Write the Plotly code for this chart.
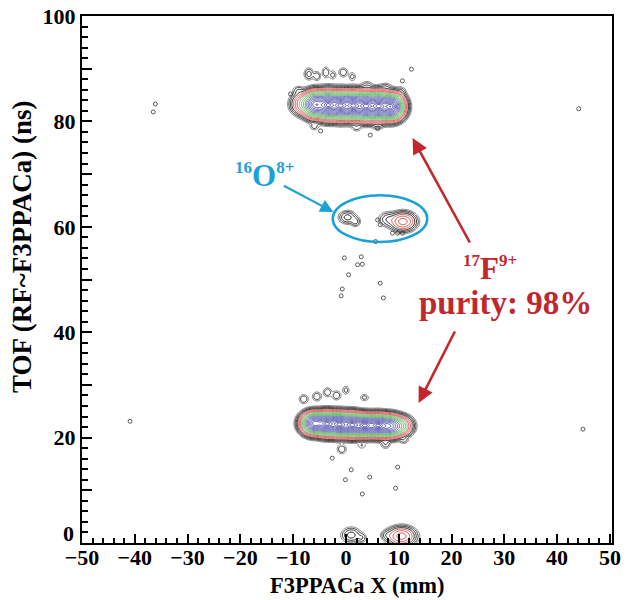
import numpy as np
import plotly.graph_objects as go

# ---------------- data ----------------
# main ion bands: blob centres along each band (x, y), widths, relative weights
TOP_X = [-8.0, -5.8, -3.4, -1.0, 1.4, 3.8, 6.2, 8.6]
TOP_Y = [83.3, 83.2, 83.1, 83.0, 83.0, 82.9, 82.9, 82.8]
TOP_SX = [1.0, 1.0, 1.0, 1.0, 1.0, 1.0, 1.0, 1.0]
TOP_SY = [0.9, 1.0, 1.05, 1.05, 1.05, 1.05, 1.05, 1.0]
TOP_W = [0.06, 0.8, 1.0, 1.0, 1.0, 1.0, 1.0, 1.0]

BOT_X = [-6.0, -3.6, -1.2, 1.2, 3.6, 6.0, 8.2, 10.2]
BOT_Y = [22.7, 22.6, 22.5, 22.4, 22.3, 22.3, 22.2, 22.2]
BOT_SX = [1.0, 1.0, 1.0, 1.0, 1.0, 1.0, 1.1, 1.0]
BOT_SY = [0.85, 0.9, 0.9, 0.9, 0.85, 0.85, 0.85, 0.8]
BOT_W = [0.9, 1.0, 1.0, 1.0, 1.0, 0.95, 0.7, 0.12]

# small clumps / islands: x, y, sx, sy, peak level (in contour units)
CL_X = [-7.0, -5.5, -3.8, -2.5, -0.5, 1.2, -9.0, 4.0, 7.5, 10.5, -6.0, 2.0, 6.0,
        -8.0, -5.5, -3.5, -1.8, 0.0, 3.5, -0.8, 7.5, 11.0, 3.0,
        0.3, 1.8, 8.0, 10.8,
        1.0, 3.0, 7.8, 10.5]
CL_Y = [89.0, 88.6, 89.3, 88.8, 89.3, 88.5, 85.8, 86.8, 86.6, 85.7, 79.0, 78.8, 79.0,
        27.3, 27.8, 28.6, 28.0, 29.0, 27.6, 17.8, 18.8, 19.5, 18.5,
        61.8, 61.0, 61.4, 61.0,
        1.5, 1.0, 1.5, 1.3]
CL_SX = [0.5, 0.4, 0.4, 0.4, 0.5, 0.4, 0.6, 0.6, 0.6, 0.5, 0.5, 0.5, 0.5,
         0.5, 0.5, 0.45, 0.5, 0.4, 0.5, 0.5, 0.5, 0.5, 0.5,
         0.8, 0.5, 0.9, 1.1,
         0.9, 0.5, 0.6, 1.2]
CL_SY = [0.6, 0.5, 0.6, 0.5, 0.5, 0.5, 0.5, 0.5, 0.4, 0.5, 0.4, 0.4, 0.4,
         0.5, 0.5, 0.5, 0.5, 0.5, 0.4, 0.5, 0.5, 0.4, 0.4,
         0.6, 0.5, 0.7, 0.8,
         0.7, 0.5, 0.5, 0.8]
CL_R = [3.4, 3.5, 3.5, 3.6, 3.5, 3.6, 3.5, 3.6, 3.6, 3.6, 3.6, 3.6, 3.6,
        3.5, 3.5, 3.5, 3.5, 3.6, 3.6, 3.5, 3.5, 3.6, 3.7,
        3.2, 3.4, 3.3, 2.6,
        3.2, 3.5, 3.4, 2.6]

# isolated single counts
DOT_X = [-36.1, -36.5, 44.1, -40.9, 44.9, 5.6, 6.0, 6.5, 8.8, 9.8, 10.7,
         -0.3, 2.9, 2.2, -0.7, -0.9, 6.5, 7.1, 0.5, 3.1,
         9.4, 4.5, -0.1, 1.0, 9.8, 3.1,
         -10.5, 10.7, 12.4, -4.8, 6.0, 4.6, -2.6]
DOT_Y = [83.3, 81.8, 82.4, 23.1, 21.6, 57.2, 61.3, 60.4, 58.8, 58.8, 58.8,
         54.1, 54.3, 52.8, 48.2, 46.9, 49.3, 46.5, 50.9, 52.9,
         10.4, 12.5, 12.0, 13.9, 14.4, 9.3,
         85.2, 87.7, 89.9, 78.2, 78.7, 77.4, 16.1]

X_TICKS = [-50, -40, -30, -20, -10, 0, 10, 20, 30, 40, 50]
Y_TICKS = [0, 10, 20, 30, 40, 50, 60, 70, 80, 90, 100]
Y_TEXT = ["", "", "20", "", "40", "", "60", "", "80", "", "100"]

# ---------------- density grid ----------------
gx = np.arange(-20.0, 25.0, 0.15)
gy = np.arange(-4.0, 100.0, 0.15)
GX, GY = np.meshgrid(gx, gy)


def blob(x0, y0, sx, sy):
    return np.exp(-0.5 * (((GX - x0) / sx) ** 2 + ((GY - y0) / sy) ** 2))


dens = np.zeros_like(GX)
for xs, ys, sxs, sys_, ws in [(TOP_X, TOP_Y, TOP_SX, TOP_SY, TOP_W),
                               (BOT_X, BOT_Y, BOT_SX, BOT_SY, BOT_W)]:
    for a, b, c, d, w in zip(xs, ys, sxs, sys_, ws):
        dens += w * blob(a, b, c, d)
M = dens.max()
for a, b, c, d, rp in zip(CL_X, CL_Y, CL_SX, CL_SY, CL_R):
    dens += M * np.exp(-0.5 * rp ** 2) * blob(a, b, c, d)

R = np.sqrt(2.0 * np.log(M / np.maximum(dens, 1e-300)))

cscale = [[0.0, '#4848a4'], [0.416, '#6464be'],
          [0.417, '#49aa49'], [0.638, '#74c074'],
          [0.639, '#d44848'], [0.805, '#de5a5a'],
          [0.806, '#151515'], [0.94, '#303030'], [1.0, '#7a7a7a']]

fig = go.Figure()
fig.add_trace(go.Contour(
    x=gx, y=gy, z=R,
    contours=dict(start=0.3, end=3.9, size=0.2, coloring='lines'),
    colorscale=cscale, zmin=0.3, zmax=3.9, zauto=False,
    line=dict(width=1.0), showscale=False, hoverinfo='skip'))

fig.add_trace(go.Scatter(
    x=DOT_X, y=DOT_Y, mode='markers',
    marker=dict(symbol='circle-open', size=4, color='#333333', line=dict(width=0.8)),
    hoverinfo='skip', showlegend=False))

SERIF = "Liberation Serif"
RED = '#c1272d'
CYAN = '#1ba1d8'


def px2x(p):
    return (p - 82) / 5.27 - 50


def px2y(p):
    return 100 - (p - 16) / 5.27


def small(t):
    return '<sup><span style="font-size:17px">%s</span></sup>' % t


ann = []
# arrows
for (tx, ty, hx, hy, col, wd) in [(470, 244, 412, 138, RED, 2.6),
                                  (455, 330, 418, 403, RED, 2.6),
                                  (282, 185, 333, 212, CYAN, 2.2)]:
    ann.append(dict(x=px2x(hx), y=px2y(hy), ax=px2x(tx), ay=px2y(ty),
                    xref='x', yref='y', axref='x', ayref='y', text='',
                    showarrow=True, arrowhead=2, arrowsize=1.2,
                    arrowwidth=wd, arrowcolor=col))
ann.append(dict(x=px2x(264), y=px2y(175), xref='x', yref='y', showarrow=False,
                text=small('16') + 'O' + small('8+'),
                font=dict(family=SERIF, size=31, color=CYAN, weight='bold')))
ann.append(dict(x=px2x(489), y=px2y(268), xref='x', yref='y', showarrow=False,
                text=small('17') + 'F' + small('9+'),
                font=dict(family=SERIF, size=31, color=RED, weight='bold')))
ann.append(dict(x=px2x(505), y=px2y(303), xref='x', yref='y', showarrow=False,
                text='purity: 98%',
                font=dict(family=SERIF, size=33, color=RED, weight='bold')))
ann.append(dict(x=0, y=1.8, xref='paper', yref='y', xanchor='right', xshift=-6,
                showarrow=False, text='0',
                font=dict(family=SERIF, size=22, color='black', weight='bold')))
# axis titles
ann.append(dict(x=(22 - 82) / 530.0, y=px2y(247), xref='paper', yref='y',
                xanchor='center', yanchor='middle', textangle=-90, showarrow=False,
                text='TOF (RF~F3PPACa) (ns)',
                font=dict(family=SERIF, size=27, color='black', weight='bold')))
ann.append(dict(x=(357 - 82) / 530.0, y=(543 - 585) / 527.0, xref='paper', yref='paper',
                xanchor='center', yanchor='middle', showarrow=False,
                text='F3PPACa X (mm)',
                font=dict(family=SERIF, size=22.5, color='black', weight='bold')))

fig.update_layout(
    width=630, height=600,
    margin=dict(l=82, r=18, t=16, b=57),
    paper_bgcolor='white', plot_bgcolor='white',
    showlegend=False,
    annotations=ann,
    shapes=[dict(type='circle', xref='x', yref='y', x0=-2.5, x1=15.4, y0=57.1, y1=66.0,
                 line=dict(color=CYAN, width=2.5))],
    font=dict(family=SERIF, color='black'),
)
fig.update_xaxes(
    range=[-50, 50.4], tickmode='array', tickvals=X_TICKS, automargin=False,
    ticks='inside', ticklen=9, tickwidth=2, tickcolor='black',
    minor=dict(tickmode='linear', tick0=0, dtick=2, ticks='inside', ticklen=5,
               tickwidth=1.5, tickcolor='black', showgrid=False),
    showline=True, linewidth=2, linecolor='black', mirror=True,
    showgrid=False, zeroline=False, ticklabelstandoff=-6,
    tickfont=dict(family=SERIF, size=22, weight='bold'))
fig.update_yaxes(
    range=[0, 100], tickmode='array', tickvals=Y_TICKS, ticktext=Y_TEXT, automargin=False,
    ticks='inside', ticklen=10, tickwidth=2, tickcolor='black',
    minor=dict(tickmode='linear', tick0=0, dtick=2, ticks='inside', ticklen=6,
               tickwidth=1.5, tickcolor='black', showgrid=False),
    showline=True, linewidth=2, linecolor='black', mirror=True,
    showgrid=False, zeroline=False,
    tickfont=dict(family=SERIF, size=22, weight='bold'))

fig.write_html("out.html", config={'displayModeBar': False},
               post_script="document.body.style.margin='0px';")
